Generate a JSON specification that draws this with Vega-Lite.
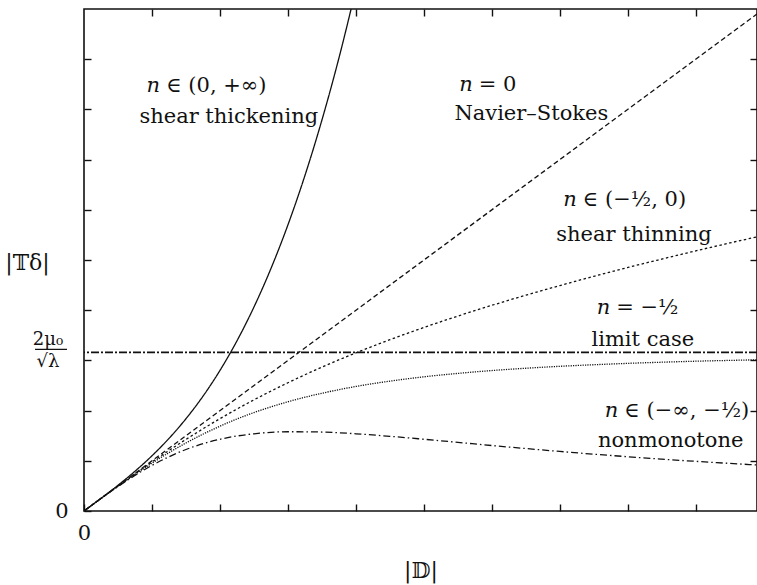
{
  "$schema": "https://vega.github.io/schema/vega-lite/v6.json",
  "width": 673,
  "height": 502,
  "autosize": {"type": "none"},
  "padding": {"left": 84, "top": 9, "right": 0, "bottom": 74},
  "background": "white",
  "config": {
    "view": {"stroke": "#111", "strokeWidth": 1.6},
    "font": "DejaVu Serif",
    "text": {"font": "DejaVu Serif", "color": "#111"},
    "axis": {
      "grid": false,
      "domain": false,
      "tickColor": "#111",
      "tickWidth": 1.4,
      "tickSize": -7,
      "labelFont": "DejaVu Serif",
      "labelFontSize": 21,
      "labelColor": "#111",
      "labelFlush": false,
      "titleFont": "DejaVu Serif",
      "titleFontWeight": "normal",
      "titleFontSize": 22,
      "titleColor": "#111"
    }
  },
  "datasets": {
    "curves": [
      {"s": "thick", "D": 0, "T": 0},
      {"s": "thick", "D": 0.25, "T": 0.252},
      {"s": "thick", "D": 0.5, "T": 0.513},
      {"s": "thick", "D": 0.75, "T": 0.792},
      {"s": "thick", "D": 1, "T": 1.1},
      {"s": "thick", "D": 1.25, "T": 1.445},
      {"s": "thick", "D": 1.5, "T": 1.838},
      {"s": "thick", "D": 1.75, "T": 2.286},
      {"s": "thick", "D": 2, "T": 2.8},
      {"s": "thick", "D": 2.25, "T": 3.389},
      {"s": "thick", "D": 2.5, "T": 4.063},
      {"s": "thick", "D": 2.75, "T": 4.83},
      {"s": "thick", "D": 3, "T": 5.7},
      {"s": "thick", "D": 3.25, "T": 6.683},
      {"s": "thick", "D": 3.5, "T": 7.788},
      {"s": "thick", "D": 3.75, "T": 9.023},
      {"s": "thick", "D": 4, "T": 10.4},
      {"s": "ns", "D": 0, "T": 0},
      {"s": "ns", "D": 10, "T": 10},
      {"s": "thin", "D": 0, "T": 0},
      {"s": "thin", "D": 0.5, "T": 0.497},
      {"s": "thin", "D": 1, "T": 0.977},
      {"s": "thin", "D": 1.5, "T": 1.426},
      {"s": "thin", "D": 2, "T": 1.839},
      {"s": "thin", "D": 2.5, "T": 2.214},
      {"s": "thin", "D": 3, "T": 2.555},
      {"s": "thin", "D": 3.5, "T": 2.866},
      {"s": "thin", "D": 4, "T": 3.15},
      {"s": "thin", "D": 4.5, "T": 3.412},
      {"s": "thin", "D": 5, "T": 3.656},
      {"s": "thin", "D": 5.5, "T": 3.883},
      {"s": "thin", "D": 6, "T": 4.097},
      {"s": "thin", "D": 6.5, "T": 4.299},
      {"s": "thin", "D": 7, "T": 4.491},
      {"s": "thin", "D": 7.5, "T": 4.675},
      {"s": "thin", "D": 8, "T": 4.851},
      {"s": "thin", "D": 8.5, "T": 5.019},
      {"s": "thin", "D": 9, "T": 5.182},
      {"s": "thin", "D": 9.5, "T": 5.339},
      {"s": "thin", "D": 9.9, "T": 5.461},
      {"s": "limit", "D": 0, "T": 0},
      {"s": "limit", "D": 0.5, "T": 0.494},
      {"s": "limit", "D": 1, "T": 0.954},
      {"s": "limit", "D": 1.5, "T": 1.355},
      {"s": "limit", "D": 2, "T": 1.69},
      {"s": "limit", "D": 2.5, "T": 1.961},
      {"s": "limit", "D": 3, "T": 2.176},
      {"s": "limit", "D": 3.5, "T": 2.346},
      {"s": "limit", "D": 4, "T": 2.481},
      {"s": "limit", "D": 4.5, "T": 2.587},
      {"s": "limit", "D": 5, "T": 2.673},
      {"s": "limit", "D": 5.5, "T": 2.741},
      {"s": "limit", "D": 6, "T": 2.798},
      {"s": "limit", "D": 6.5, "T": 2.844},
      {"s": "limit", "D": 7, "T": 2.882},
      {"s": "limit", "D": 7.5, "T": 2.914},
      {"s": "limit", "D": 8, "T": 2.941},
      {"s": "limit", "D": 8.5, "T": 2.964},
      {"s": "limit", "D": 9, "T": 2.984},
      {"s": "limit", "D": 9.5, "T": 3.0},
      {"s": "limit", "D": 9.9, "T": 3.012},
      {"s": "nonmono", "D": 0, "T": 0},
      {"s": "nonmono", "D": 0.5, "T": 0.488},
      {"s": "nonmono", "D": 1, "T": 0.909},
      {"s": "nonmono", "D": 1.5, "T": 1.225},
      {"s": "nonmono", "D": 2, "T": 1.429},
      {"s": "nonmono", "D": 2.5, "T": 1.538},
      {"s": "nonmono", "D": 3, "T": 1.579},
      {"s": "nonmono", "D": 3.5, "T": 1.573},
      {"s": "nonmono", "D": 4, "T": 1.538},
      {"s": "nonmono", "D": 4.5, "T": 1.488},
      {"s": "nonmono", "D": 5, "T": 1.429},
      {"s": "nonmono", "D": 5.5, "T": 1.367},
      {"s": "nonmono", "D": 6, "T": 1.304},
      {"s": "nonmono", "D": 6.5, "T": 1.244},
      {"s": "nonmono", "D": 7, "T": 1.186},
      {"s": "nonmono", "D": 7.5, "T": 1.132},
      {"s": "nonmono", "D": 8, "T": 1.081},
      {"s": "nonmono", "D": 8.5, "T": 1.033},
      {"s": "nonmono", "D": 9, "T": 0.989},
      {"s": "nonmono", "D": 9.5, "T": 0.948},
      {"s": "nonmono", "D": 9.9, "T": 0.917}
    ],
    "mathlabels": [
      {"x": 1.12, "y": 8.35, "rest": "∈ (0, +∞)"},
      {"x": 5.72, "y": 8.37, "rest": "= 0"},
      {"x": 7.25, "y": 6.08, "rest": "∈ (−½, 0)"},
      {"x": 7.74, "y": 3.92, "rest": "= −½"},
      {"x": 7.86, "y": 1.87, "rest": "∈ (−∞, −½)"}
    ],
    "wordlabels": [
      {"x": 2.13, "y": 7.73, "t": "shear thickening"},
      {"x": 6.58, "y": 7.79, "t": "Navier–Stokes"},
      {"x": 8.09, "y": 5.38, "t": "shear thinning"},
      {"x": 8.22, "y": 3.29, "t": "limit case"},
      {"x": 8.63, "y": 1.27, "t": "nonmonotone"}
    ]
  },
  "layer": [
    {
      "data": {"name": "curves"},
      "mark": {"type": "line", "clip": true, "strokeWidth": 1.3, "color": "#111", "interpolate": "monotone"},
      "encoding": {
        "x": {
          "field": "D", "type": "quantitative",
          "scale": {"domain": [0, 9.9], "nice": false, "zero": false},
          "axis": {
            "orient": "bottom",
            "values": [0, 1, 2, 3, 4, 5, 6, 7, 8, 9],
            "labelExpr": "datum.value == 0 ? '0' : ''",
            "labelPadding": 18,
            "title": "|𝔻|",
            "titleY": 59,
            "titleBaseline": "middle"
          }
        },
        "y": {
          "field": "T", "type": "quantitative",
          "scale": {"domain": [0, 10], "nice": false, "zero": false},
          "axis": {
            "orient": "left",
            "values": [0, 1, 2, 3, 4, 5, 6, 7, 8, 9],
            "labelExpr": "datum.value == 0 ? '0' : ''",
            "labelPadding": 23,
            "title": "|𝕋δ|",
            "titleAngle": 0,
            "titleX": -57,
            "titleY": 253,
            "titleAlign": "center",
            "titleBaseline": "middle"
          }
        },
        "strokeDash": {
          "field": "s", "type": "nominal",
          "scale": {
            "domain": ["thick", "ns", "thin", "limit", "nonmono"],
            "range": [[1, 0], [5, 3], [2.5, 2.5], [1.2, 1.2], [7, 3, 1.5, 3]]
          },
          "legend": null
        }
      }
    },
    {
      "data": {"values": [{"T": 3.16}]},
      "mark": {"type": "rule", "strokeDash": [8, 2, 2, 2], "strokeWidth": 1.6, "color": "#111"},
      "encoding": {
        "y": {"field": "T", "type": "quantitative", "scale": {"domain": [0, 10], "nice": false, "zero": false}, "axis": null}
      }
    },
    {
      "data": {"name": "wordlabels"},
      "mark": {"type": "text", "fontSize": 21, "align": "center", "baseline": "alphabetic"},
      "encoding": {
        "x": {
          "field": "x", "type": "quantitative",
          "scale": {"domain": [0, 9.9], "nice": false, "zero": false},
          "axis": {"orient": "top", "values": [1, 2, 3, 4, 5, 6, 7, 8, 9], "labels": false, "title": null}
        },
        "y": {
          "field": "y", "type": "quantitative",
          "scale": {"domain": [0, 10], "nice": false, "zero": false},
          "axis": {"orient": "right", "values": [1, 2, 3, 4, 5, 6, 7, 8, 9], "labels": false, "title": null}
        },
        "text": {"field": "t"}
      }
    },
    {
      "data": {"name": "mathlabels"},
      "mark": {"type": "text", "fontSize": 21, "align": "right", "baseline": "alphabetic", "fontStyle": "italic"},
      "encoding": {
        "x": {"field": "x", "type": "quantitative", "scale": {"domain": [0, 9.9], "nice": false, "zero": false}, "axis": null},
        "y": {"field": "y", "type": "quantitative", "scale": {"domain": [0, 10], "nice": false, "zero": false}, "axis": null},
        "text": {"value": "n"}
      }
    },
    {
      "data": {"name": "mathlabels"},
      "mark": {"type": "text", "fontSize": 21, "align": "left", "baseline": "alphabetic", "dx": 6},
      "encoding": {
        "x": {"field": "x", "type": "quantitative", "scale": {"domain": [0, 9.9], "nice": false, "zero": false}, "axis": null},
        "y": {"field": "y", "type": "quantitative", "scale": {"domain": [0, 10], "nice": false, "zero": false}, "axis": null},
        "text": {"field": "rest"}
      }
    },
    {
      "data": {"values": [{"x": -0.53, "y": 3.31, "t": "2μ₀"}, {"x": -0.53, "y": 2.87, "t": "√λ"}]},
      "mark": {"type": "text", "fontSize": 18, "align": "center", "baseline": "alphabetic"},
      "encoding": {
        "x": {"field": "x", "type": "quantitative", "scale": {"domain": [0, 9.9], "nice": false, "zero": false}, "axis": null},
        "y": {"field": "y", "type": "quantitative", "scale": {"domain": [0, 10], "nice": false, "zero": false}, "axis": null},
        "text": {"field": "t"}
      }
    },
    {
      "data": {"values": [{"x": -0.72, "x2": -0.25, "y": 3.22}]},
      "mark": {"type": "rule", "strokeWidth": 1.2, "color": "#111"},
      "encoding": {
        "x": {"field": "x", "type": "quantitative", "scale": {"domain": [0, 9.9], "nice": false, "zero": false}, "axis": null},
        "x2": {"field": "x2"},
        "y": {"field": "y", "type": "quantitative", "scale": {"domain": [0, 10], "nice": false, "zero": false}, "axis": null}
      }
    }
  ],
  "resolve": {"axis": {"x": "independent", "y": "independent"}}
}
